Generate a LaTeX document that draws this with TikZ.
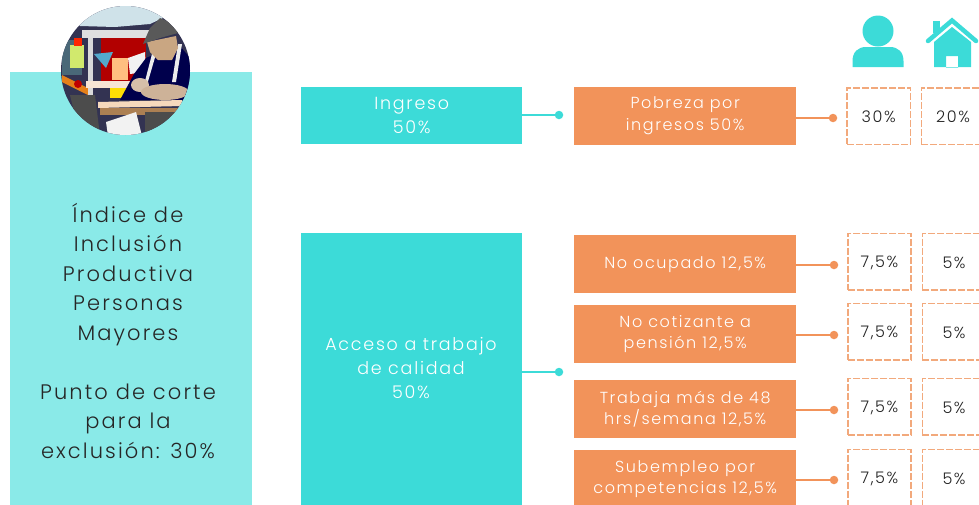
\documentclass[tikz,border=0pt]{standalone}
\usepackage{fontspec}
\setmainfont{Poppins}[UprightFont=* Light,LetterSpace=10]
\usetikzlibrary{calc}
\definecolor{paneltint}{HTML}{8AEAE8}
\definecolor{teal}{HTML}{3CDBD8}
\definecolor{orng}{HTML}{F2935A}
\definecolor{dashorng}{HTML}{F2A97C}
\definecolor{inkdark}{HTML}{222222}
\tikzset{
  tealbox/.style={fill=teal,text=white,inner sep=0pt,align=center,font=\fontsize{17.5}{24}\selectfont},
  orbox/.style={fill=orng,text=white,inner sep=0pt,align=center,font=\fontsize{16}{21.5}\selectfont,minimum width=222pt,minimum height=57.5pt,execute at begin node={\rule{0pt}{14pt}}},
  pct/.style={draw=dashorng,line width=1.6pt,dash pattern=on 7pt off 2pt,text=inkdark,inner sep=0pt,outer sep=0pt,minimum width=63.5pt,minimum height=56.7pt,font=\fontsize{16}{18}\selectfont,execute at begin node={\rule{0pt}{14pt}}},
  tealdot/.style={circle,fill=teal,inner sep=0pt,minimum size=8.5pt},
  ordot/.style={circle,fill=orng,inner sep=0pt,minimum size=8.5pt},
  tealline/.style={draw=teal,line width=1.4pt},
  orline/.style={draw=orng,line width=1.4pt},
}
\begin{document}
\begin{tikzpicture}[x=1pt,y=-1pt]
\useasboundingbox (0,0) rectangle (979,504);
\begin{scope}
\clip (0,0) rectangle (979,504);
% left panel
\node[fill=paneltint,inner sep=0pt,minimum width=242pt,minimum height=440pt,anchor=north west] (panel) at (10,72) {};
\node[align=center,text=black!85,font=\fontsize{21}{29.5}\selectfont] (paneltxt) at (128,331) {Índice de\\Inclusión\\Productiva\\Personas\\Mayores\\[29.5pt]Punto de corte\\para la\\exclusión: 30\%};
% photo
\begin{scope}
\clip (125.5,70.5) circle (64.5);
\fill[black!80!blue!60!gray] (60,5) rectangle (191,136);
\fill[gray!60!cyan!30] (60,5) -- (191,5) -- (150,24) -- (115,27) -- (80,26) -- cycle;
\fill[cyan!40!black] (62,40) rectangle (82,75);
\fill[yellow!70!green!60] (70,45) rectangle (84,68);
\fill[red!70!orange] (74,38) rectangle (82,46);
\fill[orange!60!brown] (62,75) -- (88,88) -- (88,95) -- (62,82) -- cycle;
\fill[red!75!black] (78,84) circle (4);
\fill[gray!30!white] (88,30) rectangle (93,105);
\fill[gray!25!white] (82,30) rectangle (150,38);
\fill[red!70!black] (101,38) rectangle (146,81);
\fill[orange!50!white] (112,58) rectangle (128,80);
\fill[white!90!gray] (128,58) -- (145,52) -- (146,72) -- (130,74) -- cycle;
\fill[gray!40!cyan] (94,54) -- (113,52) -- (106,68) -- cycle;
\fill[gray!30!orange!20] (86,81) rectangle (130,88);
\fill[yellow!80!orange] (110,88) rectangle (128,98);
% man
\fill[blue!30!black] (120,100) -- (134,74) -- (146,58) -- (178,44) -- (192,60) -- (192,100) -- cycle;
\fill[white!85!gray] (152,54) -- (156,54) -- (147,85) -- (144,85) -- cycle;
\fill[white!85!gray] (178,44) -- (182,44) -- (176,82) -- (172,82) -- cycle;
\fill[orange!40!gray!70!white] (147,42) -- (176,36) -- (178,48) -- (172,60) -- (158,60) -- (150,52) -- cycle;
\fill[gray!70!black] (143,44) -- (150,28) -- (160,18) -- (176,25) -- (178,33) -- (160,38) -- cycle;
\fill[orange!35!gray!50!white] (140,85) ellipse (9 and 7);
\fill[orange!35!gray!60!white] (165,92) ellipse (24 and 8);
% bench and below
\fill[gray!25!orange!30!white] (98,102) -- (182,100) -- (182,106) -- (98,108) -- cycle;
\fill[gray!30!brown] (100,108) rectangle (190,115);
\fill[white!90!gray] (106,122) -- (136,112) -- (142,136) -- (108,136) -- cycle;
\fill[gray!60!black] (145,112) rectangle (180,136);
\fill[black!70] (70,95) -- (95,95) -- (100,136) -- (80,136) -- cycle;
\end{scope}
% left column
\node[tealbox,minimum width=221pt,minimum height=57pt,anchor=north west] (ingreso) at (301,87) {Ingreso\\50\%};
\node[fill=teal,inner sep=0pt,minimum width=221pt,minimum height=290pt,anchor=north west] (acceso) at (301,233) {};
\node[text=white,align=center,font=\fontsize{17.5}{24}\selectfont] (accesotxt) at (411,368) {Acceso a trabajo\\de calidad\\50\%};
\node[tealdot] (d1) at (559,115) {};
\node[tealdot] (d2) at (559,372) {};
\draw[tealline] (ingreso.east |- d1) -- (d1);
\draw[tealline] (acceso.east |- d2) -- (d2);
% orange column
\node[orbox,anchor=north west] (o1) at (574,87) {Pobreza por\\ingresos 50\%};
\node[orbox,anchor=north west] (o2) at (574,235) {No ocupado 12,5\%};
\node[orbox,anchor=north west] (o3) at (574,305) {No cotizante a\\pensión 12,5\%};
\node[orbox,anchor=north west] (o4) at (574,380) {Trabaja más de 48\\hrs/semana 12,5\%};
\node[orbox,anchor=north west] (o5) at (574,450) {Subempleo por\\competencias 12,5\%};
% dots
\node[ordot] (p1) at (833,118) {};
\node[ordot] (p2) at (834,265) {};
\node[ordot] (p3) at (834,335) {};
\node[ordot] (p4) at (834,410) {};
\node[ordot] (p5) at (834,480) {};
\foreach \n in {1,...,5}{\draw[orline] (o\n.east |- p\n) -- (p\n);}
% percent boxes
\node[pct,anchor=north west] (a1) at (847,87.7) {30\%};
\node[pct,anchor=north west] (b1) at (921.3,87.7) {20\%};
\node[pct,anchor=north west] (a2) at (847.7,233.3) {7,5\%};
\node[pct,anchor=north west] (b2) at (922.3,233.3) {5\%};
\node[pct,anchor=north west] (a3) at (847.7,303.3) {7,5\%};
\node[pct,anchor=north west] (b3) at (922.3,303.3) {5\%};
\node[pct,anchor=north west] (a4) at (847.7,378.3) {7,5\%};
\node[pct,anchor=north west] (b4) at (922.3,378.3) {5\%};
\node[pct,anchor=north west] (a5) at (847.7,449.3) {7,5\%};
\node[pct,anchor=north west] (b5) at (922.3,449.3) {5\%};
% person icon
\fill[teal] (878,31) circle (15.5);
\fill[teal] (852.5,67) -- (852.5,61) .. controls (852.5,52) and (858,47) .. (866,47) -- (890,47) .. controls (898,47) and (903.5,52) .. (903.5,61) -- (903.5,67) -- cycle;
% house icon
\fill[teal] (933,21) rectangle (940,33);
\draw[teal,line width=4.5pt,line cap=round,line join=miter] (928,41) -- (952,20.5) -- (976,41);
\fill[teal,even odd rule] (934,42) -- (952,27) -- (971,42) -- (971,67) -- (934,67) -- cycle (946,56) rectangle (958,67.5);
\end{scope}
\end{tikzpicture}
\end{document}
